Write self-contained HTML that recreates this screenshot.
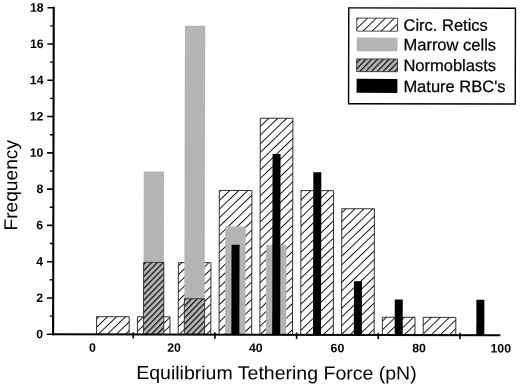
<!DOCTYPE html>
<html><head><meta charset="utf-8"><title>Equilibrium Tethering Force</title>
<style>
html,body{margin:0;padding:0;background:#fff;}
body{width:520px;height:386px;overflow:hidden;}
svg{display:block;filter:blur(0.35px);}
text{font-family:"Liberation Sans",Arial,sans-serif;fill:#000;}
.tick{font-size:12.3px;font-weight:bold;}
.title{font-size:18.8px;}
.leg{font-size:16.5px;stroke:#000;stroke-width:0.25px;}
</style></head><body>
<svg width="520" height="386" viewBox="0 0 520 386">
<defs>
<pattern id="hs" patternUnits="userSpaceOnUse" width="6.25" height="10" patternTransform="translate(2.8,0) rotate(46)"><rect x="0" y="0" width="0.95" height="10" fill="#0c0c0c"/></pattern>
<pattern id="hl" patternUnits="userSpaceOnUse" width="6.25" height="10" patternTransform="translate(6.4,0) rotate(46)"><rect x="0" y="0" width="0.95" height="10" fill="#0c0c0c"/></pattern>
<pattern id="hd" patternUnits="userSpaceOnUse" width="4.15" height="10" patternTransform="rotate(44)"><rect x="0" y="0" width="1.2" height="10" fill="#0a0a0a"/></pattern>
</defs>
<rect width="520" height="386" fill="#fff"/>
<g transform="rotate(0.115 53 334)">

<rect x="96.57" y="316.58" width="32.6" height="17.67" fill="#fff"/>
<rect x="96.57" y="316.58" width="32.6" height="17.67" fill="url(#hs)" stroke="#1a1a1a" stroke-width="0.9"/>
<rect x="137.39" y="316.58" width="32.6" height="17.67" fill="#fff"/>
<rect x="137.39" y="316.58" width="32.6" height="17.67" fill="url(#hs)" stroke="#1a1a1a" stroke-width="0.9"/>
<rect x="178.22" y="262.37" width="32.6" height="71.88" fill="#fff"/>
<rect x="178.22" y="262.37" width="32.6" height="71.88" fill="url(#hs)" stroke="#1a1a1a" stroke-width="0.9"/>
<rect x="219.06" y="190.09" width="32.6" height="144.16" fill="#fff"/>
<rect x="219.06" y="190.09" width="32.6" height="144.16" fill="url(#hs)" stroke="#1a1a1a" stroke-width="0.9"/>
<rect x="259.88" y="117.81" width="32.6" height="216.44" fill="#fff"/>
<rect x="259.88" y="117.81" width="32.6" height="216.44" fill="url(#hs)" stroke="#1a1a1a" stroke-width="0.9"/>
<rect x="300.71" y="190.09" width="32.6" height="144.16" fill="#fff"/>
<rect x="300.71" y="190.09" width="32.6" height="144.16" fill="url(#hs)" stroke="#1a1a1a" stroke-width="0.9"/>
<rect x="341.55" y="208.16" width="32.6" height="126.09" fill="#fff"/>
<rect x="341.55" y="208.16" width="32.6" height="126.09" fill="url(#hs)" stroke="#1a1a1a" stroke-width="0.9"/>
<rect x="382.38" y="316.58" width="32.6" height="17.67" fill="#fff"/>
<rect x="382.38" y="316.58" width="32.6" height="17.67" fill="url(#hs)" stroke="#1a1a1a" stroke-width="0.9"/>
<rect x="423.20" y="316.58" width="32.6" height="17.67" fill="#fff"/>
<rect x="423.20" y="316.58" width="32.6" height="17.67" fill="url(#hs)" stroke="#1a1a1a" stroke-width="0.9"/>
<rect x="143.44" y="171.33" width="20.3" height="162.92" fill="#b4b4b4"/>
<rect x="184.28" y="25.49" width="20.3" height="308.76" fill="#b4b4b4"/>
<rect x="225.11" y="226.02" width="20.3" height="108.23" fill="#b4b4b4"/>
<rect x="265.94" y="244.25" width="20.3" height="90.00" fill="#b4b4b4"/>
<rect x="143.44" y="262.20" width="20.3" height="72.05" fill="#b4b4b4"/>
<rect x="143.44" y="262.20" width="20.3" height="72.05" fill="url(#hd)" stroke="#222" stroke-width="0.8"/>
<rect x="184.28" y="298.50" width="20.3" height="35.75" fill="#b4b4b4"/>
<rect x="184.28" y="298.50" width="20.3" height="35.75" fill="url(#hd)" stroke="#222" stroke-width="0.8"/>
<rect x="231.36" y="244.40" width="8.0" height="89.85" fill="#000"/>
<rect x="272.19" y="153.60" width="8.0" height="180.65" fill="#000"/>
<rect x="313.01" y="171.76" width="8.0" height="162.49" fill="#000"/>
<rect x="353.85" y="280.72" width="8.0" height="53.53" fill="#000"/>
<rect x="394.68" y="298.88" width="8.0" height="35.37" fill="#000"/>
<rect x="476.33" y="298.88" width="8.0" height="35.37" fill="#000"/>
<rect x="52.05" y="6.8" width="2.1" height="328.45" fill="#000"/>
<rect x="52.05" y="333.25" width="448.35" height="2" fill="#000"/>
<rect x="46.8" y="333.45" width="6" height="1.6" fill="#000"/>
<text class="tick" x="43.0" y="338.25" text-anchor="end">0</text>
<rect x="49.6" y="315.41" width="3" height="1.4" fill="#000"/>
<rect x="46.8" y="297.17" width="6" height="1.6" fill="#000"/>
<text class="tick" x="43.0" y="301.97" text-anchor="end">2</text>
<rect x="49.6" y="279.13" width="3" height="1.4" fill="#000"/>
<rect x="46.8" y="260.89" width="6" height="1.6" fill="#000"/>
<text class="tick" x="43.0" y="265.69" text-anchor="end">4</text>
<rect x="49.6" y="242.85" width="3" height="1.4" fill="#000"/>
<rect x="46.8" y="224.61" width="6" height="1.6" fill="#000"/>
<text class="tick" x="43.0" y="229.41" text-anchor="end">6</text>
<rect x="49.6" y="206.57" width="3" height="1.4" fill="#000"/>
<rect x="46.8" y="188.33" width="6" height="1.6" fill="#000"/>
<text class="tick" x="43.0" y="193.13" text-anchor="end">8</text>
<rect x="49.6" y="170.29" width="3" height="1.4" fill="#000"/>
<rect x="46.8" y="152.05" width="6" height="1.6" fill="#000"/>
<text class="tick" x="43.0" y="156.85" text-anchor="end">10</text>
<rect x="49.6" y="134.01" width="3" height="1.4" fill="#000"/>
<rect x="46.8" y="115.77" width="6" height="1.6" fill="#000"/>
<text class="tick" x="43.0" y="120.57" text-anchor="end">12</text>
<rect x="49.6" y="97.73" width="3" height="1.4" fill="#000"/>
<rect x="46.8" y="79.49" width="6" height="1.6" fill="#000"/>
<text class="tick" x="43.0" y="84.29" text-anchor="end">14</text>
<rect x="49.6" y="61.45" width="3" height="1.4" fill="#000"/>
<rect x="46.8" y="43.21" width="6" height="1.6" fill="#000"/>
<text class="tick" x="43.0" y="48.01" text-anchor="end">16</text>
<rect x="49.6" y="25.17" width="3" height="1.4" fill="#000"/>
<rect x="46.8" y="6.93" width="6" height="1.6" fill="#000"/>
<text class="tick" x="43.0" y="11.73" text-anchor="end">18</text>
<rect x="132.48" y="332.05" width="1.6" height="6.4" fill="#000"/>
<rect x="214.14" y="332.05" width="1.6" height="6.4" fill="#000"/>
<rect x="295.80" y="332.05" width="1.6" height="6.4" fill="#000"/>
<rect x="377.46" y="332.05" width="1.6" height="6.4" fill="#000"/>
<rect x="459.12" y="332.05" width="1.6" height="6.4" fill="#000"/>
<text class="tick" x="92.45" y="351.6" text-anchor="middle">0</text>
<text class="tick" x="174.11" y="351.6" text-anchor="middle">20</text>
<text class="tick" x="255.77" y="351.6" text-anchor="middle">40</text>
<text class="tick" x="337.43" y="351.6" text-anchor="middle">60</text>
<text class="tick" x="419.09" y="351.6" text-anchor="middle">80</text>
<text class="tick" x="500.75" y="351.6" text-anchor="middle">100</text>
<text class="title" x="136.3" y="378.9" textLength="280.5" lengthAdjust="spacingAndGlyphs">Equilibrium Tethering Force (pN)</text>
<text class="title" transform="translate(17,230.6) rotate(-90)" textLength="90.5" lengthAdjust="spacingAndGlyphs">Frequency</text>
<rect x="348.1" y="7.3" width="166.7" height="95.8" fill="#fff" stroke="#000" stroke-width="1.4"/>
<rect x="356.1" y="17.5" width="40.8" height="13.0" fill="url(#hl)" stroke="#222" stroke-width="0.8"/>
<text class="leg" x="402.9" y="30.00">Circ. Retics</text>
<rect x="356.1" y="37.0" width="40.8" height="13.6" fill="#b4b4b4"/>
<text class="leg" x="402.9" y="49.60">Marrow cells</text>
<rect x="356.1" y="58.3" width="40.8" height="12.7" fill="#b4b4b4"/>
<rect x="356.1" y="58.3" width="40.8" height="12.7" fill="url(#hd)" stroke="#222" stroke-width="0.8"/>
<text class="leg" x="402.9" y="70.20">Normoblasts</text>
<rect x="356.1" y="78.2" width="40.8" height="14.0" fill="#000"/>
<text class="leg" x="402.9" y="91.20">Mature RBC's</text>
</g></svg></body></html>
